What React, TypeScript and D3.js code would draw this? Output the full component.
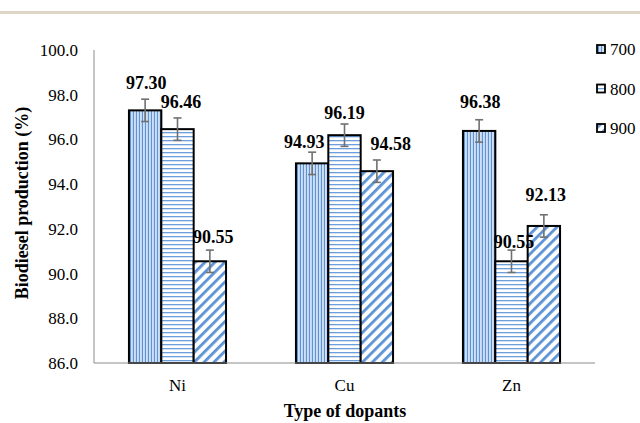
import React from "react";
import * as d3 from "d3";

const categories = ["Ni", "Cu", "Zn"];
const series = ["700", "800", "900"];
const values700 = [97.3, 94.93, 96.38];
const values800 = [96.46, 96.19, 90.55];
const values900 = [90.55, 94.58, 92.13];
const errors700 = [0.5, 0.5, 0.5];
const errors800 = [0.5, 0.5, 0.5];
const errors900 = [0.5, 0.5, 0.5];
const valueLabels700 = ["97.30", "94.93", "96.38"];
const valueLabels800 = ["96.46", "96.19", "90.55"];
const valueLabels900 = ["90.55", "94.58", "92.13"];
const yTicks = [86, 88, 90, 92, 94, 96, 98, 100];

// label nudges (style only): [dx, dy relative to error top] per series per category
const labelNudge700 = [[1, -16], [-8, -10], [1, -18]];
const labelNudge800 = [[3.5, -16], [0, -11], [2.5, -8]];
const labelNudge900 = [[3.5, -13], [14, -16], [2, -20]];

const W = 640;
const H = 423;
const FONT = '"Liberation Serif", "Times New Roman", Times, "DejaVu Serif", serif';

function VStripes({ x, y, w, h }: { x: number; y: number; w: number; h: number }) {
  const xs = d3.range(x + 1.5, x + w - 0.5, 3);
  return (
    <g>
      <rect x={x} y={y} width={w} height={h} fill="#c6d9f2" />
      {xs.map((sx, i) => (
        <g key={i}>
          <line x1={sx} x2={sx} y1={y} y2={y + h} stroke="#5b93d6" strokeWidth={1.2} />
          <line x1={sx + 1.6} x2={sx + 1.6} y1={y} y2={y + h} stroke="#f2f7fd" strokeWidth={0.7} />
        </g>
      ))}
    </g>
  );
}

export default function App() {
  const y = d3.scaleLinear().domain([86, 100]).range([363, 50]);
  const x0 = d3.scaleBand<string>().domain(categories).range([94, 595]).paddingInner(0).paddingOuter(0);
  const x1 = d3
    .scaleBand<string>()
    .domain(series)
    .range([0, x0.bandwidth()])
    .paddingInner(0)
    .paddingOuter(1.08);

  const vals = [values700, values800, values900];
  const errs = [errors700, errors800, errors900];
  const labs = [valueLabels700, valueLabels800, valueLabels900];
  const nudges = [labelNudge700, labelNudge800, labelNudge900];
  const fills = [null, "url(#p800)", "url(#p900)"];
  const tStyle = { fontFamily: FONT };

  return (
    <svg
      width={W}
      height={H}
      style={{ position: "absolute", left: 0, top: 0, background: "#fff", fontFamily: FONT }}
    >
      <defs>
        <pattern id="p800" patternUnits="userSpaceOnUse" width={W} height={4}>
          <rect x={0} y={0} width={W} height={4} fill="#ffffff" />
          <rect x={0} y={0} width={W} height={1.3} fill="#6a9fdc" />
        </pattern>
        <pattern
          id="p900"
          patternUnits="userSpaceOnUse"
          width={7}
          height={7}
          patternTransform="rotate(45)"
        >
          <rect x={0} y={0} width={7} height={7} fill="#ffffff" />
          <rect x={0} y={0} width={2.8} height={7} fill="#5b93d6" />
        </pattern>
      </defs>

      {/* top band */}
      <rect x={0} y={11} width={W} height={3} fill="#ddd6c6" />

      {/* y axis */}
      <line x1={94} x2={94} y1={y(100)} y2={y(86)} stroke="#8c8c8c" strokeWidth={1} />
      {yTicks.map((t) => (
        <text
          key={t}
          x={78}
          y={y(t)}
          dy="0.35em"
          textAnchor="end"
          fontSize={17}
          fill="#000"
          style={tStyle}
        >
          {t.toFixed(1)}
        </text>
      ))}

      {/* bars */}
      {categories.map((c, ci) =>
        series.map((s, si) => {
          const v = vals[si][ci];
          const bx = (x0(c) as number) + (x1(s) as number);
          const bw = x1.bandwidth();
          const by = y(v);
          const bh = y(86) - y(v);
          return (
            <g key={c + s}>
              {si === 0 ? (
                <VStripes x={bx} y={by} w={bw} h={bh} />
              ) : (
                <rect x={bx} y={by} width={bw} height={bh} fill={fills[si] as string} />
              )}
              <rect x={bx} y={by} width={bw} height={bh} fill="none" stroke="#000" strokeWidth={2} />
            </g>
          );
        })
      )}

      {/* x axis */}
      <line x1={94} x2={595} y1={y(86)} y2={y(86)} stroke="#8c8c8c" strokeWidth={1} />

      {/* error bars */}
      {categories.map((c, ci) =>
        series.map((s, si) => {
          const v = vals[si][ci];
          const e = errs[si][ci];
          const cx = (x0(c) as number) + (x1(s) as number) + x1.bandwidth() / 2;
          return (
            <g key={"e" + c + s} stroke="#707070" strokeWidth={1.6}>
              <line x1={cx} x2={cx} y1={y(v + e)} y2={y(v - e)} />
              <line x1={cx - 4} x2={cx + 4} y1={y(v + e)} y2={y(v + e)} />
              <line x1={cx - 4} x2={cx + 4} y1={y(v - e)} y2={y(v - e)} />
            </g>
          );
        })
      )}

      {/* value labels */}
      {categories.map((c, ci) =>
        series.map((s, si) => {
          const v = vals[si][ci];
          const e = errs[si][ci];
          const cx = (x0(c) as number) + (x1(s) as number) + x1.bandwidth() / 2;
          const [dx, dy] = nudges[si][ci];
          return (
            <text
              key={"l" + c + s}
              x={cx + dx}
              y={y(v + e) + dy}
              dy="0.35em"
              textAnchor="middle"
              fontSize={18}
              fontWeight="bold"
              fill="#000"
              style={tStyle}
            >
              {labs[si][ci]}
            </text>
          );
        })
      )}

      {/* category labels */}
      {categories.map((c) => (
        <text
          key={"c" + c}
          x={(x0(c) as number) + x0.bandwidth() / 2}
          y={391}
          textAnchor="middle"
          fontSize={17}
          fill="#000"
          style={tStyle}
        >
          {c}
        </text>
      ))}

      {/* axis titles */}
      <text x={345} y={417} textAnchor="middle" fontSize={18} fontWeight="bold" fill="#000" style={tStyle}>
        Type of dopants
      </text>
      <text
        transform="translate(22,203) rotate(-90)"
        dy="0.35em"
        textAnchor="middle"
        fontSize={18}
        fontWeight="bold"
        fill="#000"
        style={tStyle}
      >
        Biodiesel production (%)
      </text>

      {/* legend */}
      {series.map((s, si) => {
        const ly = 49.5 + si * 39.5;
        return (
          <g key={"lg" + s}>
            {si === 0 ? (
              <VStripes x={597} y={ly - 4.5} w={8} h={8} />
            ) : (
              <rect x={597} y={ly - 4.5} width={8} height={8} fill={fills[si] as string} />
            )}
            <rect x={597} y={ly - 4.5} width={8} height={8} fill="none" stroke="#000" strokeWidth={1.8} />
            <text x={610} y={ly} dy="0.35em" fontSize={17} fill="#000" style={tStyle}>
              {s}
            </text>
          </g>
        );
      })}
    </svg>
  );
}
